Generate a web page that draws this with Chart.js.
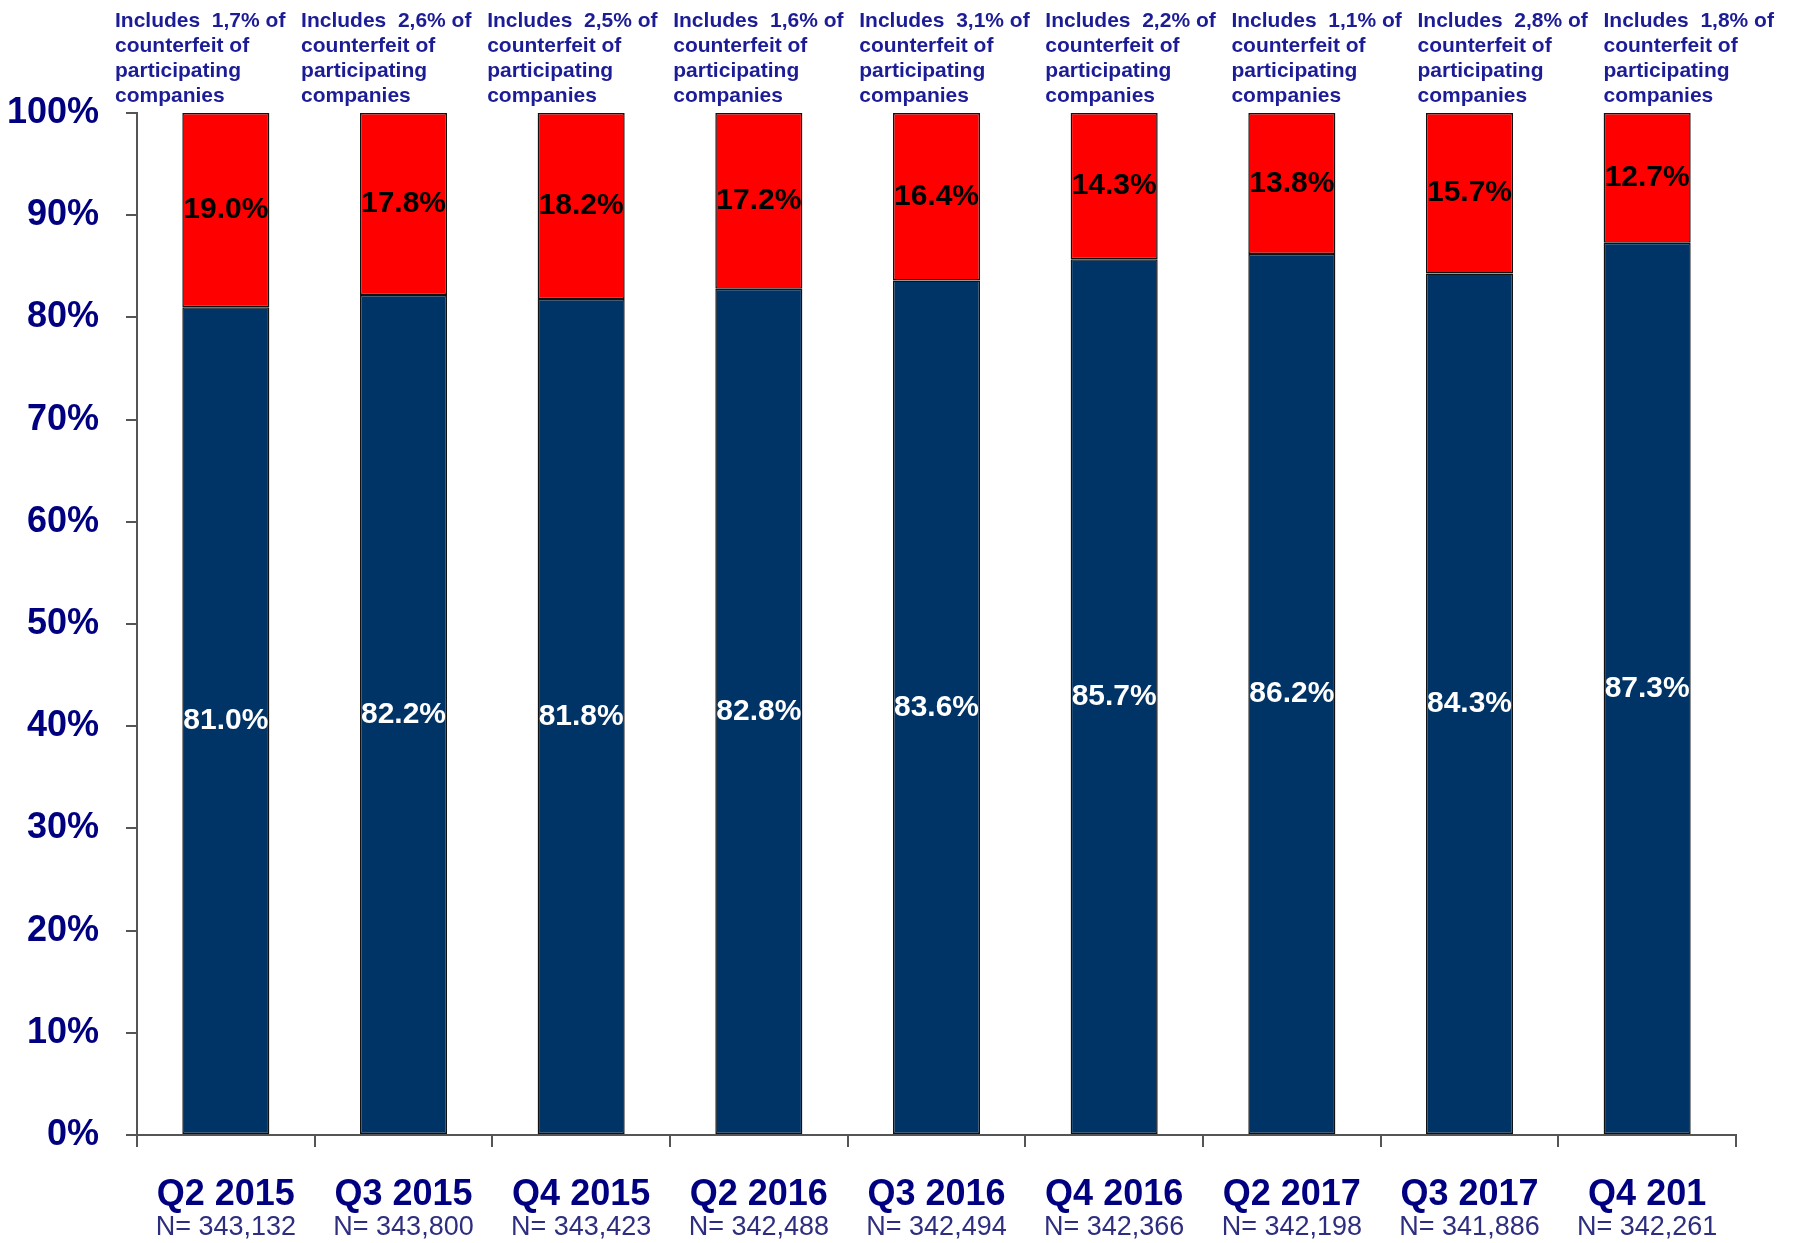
<!DOCTYPE html>
<html>
<head>
<meta charset="utf-8">
<script src="https://cdn.jsdelivr.net/npm/chart.js@4.4.1/dist/chart.umd.min.js"></script>
<style>
  html, body { margin: 0; padding: 0; background: #fff; }
  #wrap { width: 1799px; height: 1243px; }
</style>
</head>
<body>
<div id="wrap"><canvas id="chart" width="1799" height="1243"></canvas></div>
<script>
// Data
const quarters = ['Q2 2015', 'Q3 2015', 'Q4 2015', 'Q2 2016', 'Q3 2016', 'Q4 2016', 'Q2 2017', 'Q3 2017', 'Q4 201'];
const sampleSizes = ['343,132', '343,800', '343,423', '342,488', '342,494', '342,366', '342,198', '341,886', '342,261'];
const genuineShare = [81.0, 82.2, 81.8, 82.8, 83.6, 85.7, 86.2, 84.3, 87.3];
const counterfeitShare = [19.0, 17.8, 18.2, 17.2, 16.4, 14.3, 13.8, 15.7, 12.7];
const participantsShare = ['1,7', '2,6', '2,5', '1,6', '3,1', '2,2', '1,1', '2,8', '1,8'];
const yTicks = [0, 10, 20, 30, 40, 50, 60, 70, 80, 90, 100];

const FONT = "'Liberation Sans', Arial, Helvetica, sans-serif";
const NAVY = '#003366';

// value labels in the middle of each segment
const segmentLabels = {
  id: 'segmentLabels',
  afterDatasetsDraw(chart) {
    const ctx = chart.ctx;
    ctx.save();
    ctx.textAlign = 'center';
    ctx.textBaseline = 'middle';
    ctx.font = 'bold 30px ' + FONT;
    chart.data.datasets.forEach((ds, di) => {
      const meta = chart.getDatasetMeta(di);
      ctx.fillStyle = di === 0 ? '#ffffff' : '#000000';
      meta.data.forEach((bar, i) => {
        const y = (bar.y + bar.base) / 2;
        ctx.fillText(ds.data[i].toFixed(1) + '%', bar.x, y);
      });
    });
    ctx.restore();
  }
};

// notes above the bars and sample sizes under the quarter names
const notesAndSizes = {
  id: 'notesAndSizes',
  afterDraw(chart) {
    const ctx = chart.ctx;
    const area = chart.chartArea;
    const x = chart.scales.x;
    ctx.save();

    // sample sizes
    ctx.font = '27px ' + FONT;
    ctx.fillStyle = '#2e2e80';
    ctx.textAlign = 'center';
    ctx.textBaseline = 'alphabetic';
    sampleSizes.forEach((n, i) => {
      ctx.fillText('N= ' + n, x.getPixelForValue(i), area.bottom + 100);
    });

    // notes
    ctx.font = 'bold 21px ' + FONT;
    ctx.fillStyle = '#1c1c96';
    ctx.textAlign = 'left';
    const pitch = (x.getPixelForValue(1) - x.getPixelForValue(0)) + 8.4;
    participantsShare.forEach((p, i) => {
      const left = area.left - 22 + i * pitch;
      const lines = ['Includes  ' + p + '% of', 'counterfeit of', 'participating', 'companies'];
      lines.forEach((line, k) => {
        ctx.fillText(line, left, 27 + k * 25);
      });
    });
    ctx.restore();
  }
};

new Chart(document.getElementById('chart'), {
  type: 'bar',
  data: {
    labels: quarters,
    datasets: [{
      label: 'Genuine',
      data: genuineShare,
      backgroundColor: NAVY,
      borderColor: '#111111',
      borderWidth: 1.5,
      borderSkipped: false,
      barPercentage: 0.49,
      categoryPercentage: 1
    }, {
      label: 'Counterfeit',
      data: counterfeitShare,
      backgroundColor: '#ff0000',
      borderColor: '#111111',
      borderWidth: 1.5,
      borderSkipped: false,
      barPercentage: 0.49,
      categoryPercentage: 1
    }]
  },
  options: {
    responsive: false,
    animation: false,
    devicePixelRatio: 1,
    layout: {
      padding: { top: 113, right: 63, left: 0, bottom: 0 }
    },
    plugins: {
      legend: { display: false },
      tooltip: { enabled: false }
    },
    scales: {
      x: {
        stacked: true,
        offset: true,
        afterFit(scale) { scale.height = 108; },
        border: { display: true, color: '#555555', width: 2 },
        grid: {
          offset: true,
          drawOnChartArea: false,
          drawTicks: true,
          tickLength: 12,
          color: '#555555',
          lineWidth: 2
        },
        ticks: {
          padding: 26,
          maxRotation: 0,
          autoSkip: false,
          color: '#000080',
          font: { family: FONT, size: 36, weight: 'bold' }
        }
      },
      y: {
        stacked: true,
        min: 0,
        max: 100,
        afterFit(scale) { scale.width = 137; },
        afterBuildTicks(scale) {
          scale.ticks = yTicks.map(v => ({ value: v }));
        },
        border: { display: true, color: '#555555', width: 2 },
        grid: {
          drawOnChartArea: false,
          drawTicks: true,
          tickLength: 11,
          color: '#555555',
          lineWidth: 2
        },
        ticks: {
          padding: 27,
          color: '#000080',
          font: { family: FONT, size: 36, weight: 'bold' },
          callback: function(value) { return value + '%'; }
        }
      }
    }
  },
  plugins: [segmentLabels, notesAndSizes]
});
</script>
</body>
</html>
